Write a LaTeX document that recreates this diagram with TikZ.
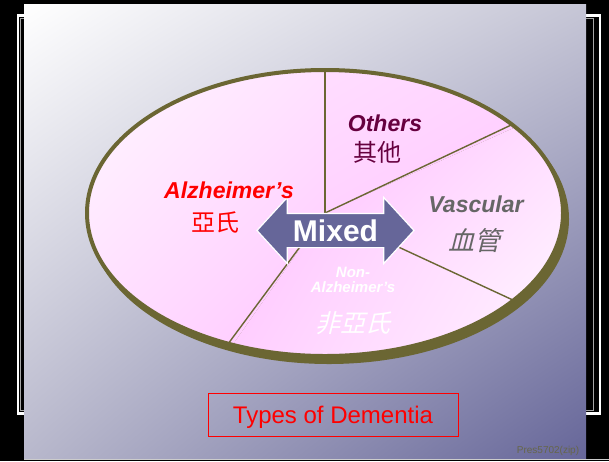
\documentclass[tikz,border=0pt]{standalone}
\usepackage{fontspec}
\setmainfont{Liberation Sans}
\newfontfamily\cjk{Noto Sans CJK TC}
\newfontfamily\cjkslant{Noto Sans CJK TC}[FakeSlant=0.25]
\usetikzlibrary{shapes.arrows, shadings}

\definecolor{olivering}{HTML}{6B6633}
\definecolor{slate}{HTML}{666699}
\definecolor{pinkfill}{HTML}{FFC8FF}
\definecolor{palefill}{HTML}{FFF4FF}
\definecolor{plum}{HTML}{66003F}
\definecolor{vasgray}{HTML}{666666}
\definecolor{markgray}{HTML}{66664A}
\definecolor{slideur}{HTML}{C6C6D6}
\definecolor{slidell}{HTML}{B8B8CC}

\begin{document}
\begin{tikzpicture}[x=1pt, y=-1pt,
    catname/.style={font=\fontsize{23}{26}\selectfont\bfseries\itshape, inner sep=0pt},
    cjkname/.style={font=\fontsize{24}{26}\selectfont\cjk, inner sep=0pt},
    spoke/.style={draw=olivering, line width=1.4pt}]

\useasboundingbox (0,0) rectangle (609,461);
\fill[black] (0,0) rectangle (609,461);

% Frame
\draw[white, line width=2.2pt] (18,15.5) rectangle (600,413.5);
\draw[gray!70, line width=1pt] (20.5,18.5) rectangle (593,410.5);
% Slide
\shade[upper left=white, upper right=slideur, lower left=slidell, lower right=slate]
    (24,4) rectangle (586,458);
\draw[gray!40, line width=1pt] (24,459.5) -- (609,459.5);

\coordinate (ctr) at (325,213);
\coordinate (ptop) at (325,70);
\coordinate (pur) at (512,124.6);
\coordinate (plr) at (513.5,300.3);
\coordinate (pll) at (228.2,343.7);

% Shadow
\fill[olivering] (329,219) ellipse [x radius=240pt, y radius=145pt];

% Pie
\begin{scope}
\clip (ctr) ellipse [x radius=238pt, y radius=143pt];
\shade[top color=palefill, bottom color=pinkfill, shading angle=45]
    (ctr) -- (325,40) -- (60,40) -- (60,420) -- (180,420) -- cycle;
\shade[top color=pinkfill!55!palefill, bottom color=pinkfill, shading angle=30]
    (ctr) -- (325,40) -- (620,40) -- (620,80) -- cycle;
\shade[top color=pinkfill, bottom color=palefill, shading angle=45]
    (ctr) -- (620,80) -- (620,350) -- cycle;
\shade[top color=pinkfill, bottom color=palefill, shading angle=60]
    (ctr) -- (620,350) -- (620,420) -- (180,420) -- cycle;
\end{scope}

\draw[spoke] (ctr) -- (ptop);
\draw[spoke] (ctr) -- (pur);
\draw[spoke] (ctr) -- (plr);
\draw[spoke] (ctr) -- (pll);

\draw[olivering, line width=4pt] (ctr) ellipse [x radius=238pt, y radius=143pt];

% Mixed arrow
\node[double arrow, fill=slate, draw=white, line width=1.2pt,
      double arrow head extend=16pt, double arrow tip angle=95,
      minimum height=157pt, text height=21pt, text depth=0pt,
      inner ysep=6pt, inner xsep=0pt, text=white,
      font=\fontsize{30}{30}\selectfont\bfseries] (mixed) at (335.5,230.5) {Mixed};

\node[catname, text=red] (alz) at (229,190) {Alzheimer’s};
\node[cjkname, text=red] (alzcn) at (215,222) {亞氏};
\node[catname, text=plum] (others) at (385,123) {Others};
\node[cjkname, text=plum] (otherscn) at (377,152) {其他};
\node[catname, text=vasgray] (vasc) at (476,204.5) {Vascular};
\node[cjkname, font=\fontsize{26}{28}\selectfont\cjkslant, text=vasgray] (vasccn) at (474,241) {血管};
\node[catname, font=\fontsize{15}{15}\selectfont\bfseries\itshape, align=center, text=white] (nonalz) at (353,279.5) {Non-\\Alzheimer’s};
\node[cjkname, font=\fontsize{25}{27}\selectfont\cjkslant, text=white] (nonalzcn) at (353,323) {非亞氏};

% Title
\node[draw=red, line width=0.8pt, minimum width=250pt, minimum height=43pt,
      text depth=0pt, text=red, font=\fontsize{24}{24}\selectfont] (title) at (333,414.5) {Types of Dementia};

\node[font=\fontsize{10}{10}\selectfont, text=markgray, inner sep=0pt] (mark) at (548,451) {Pres5702(zip)};

\end{tikzpicture}
\end{document}
